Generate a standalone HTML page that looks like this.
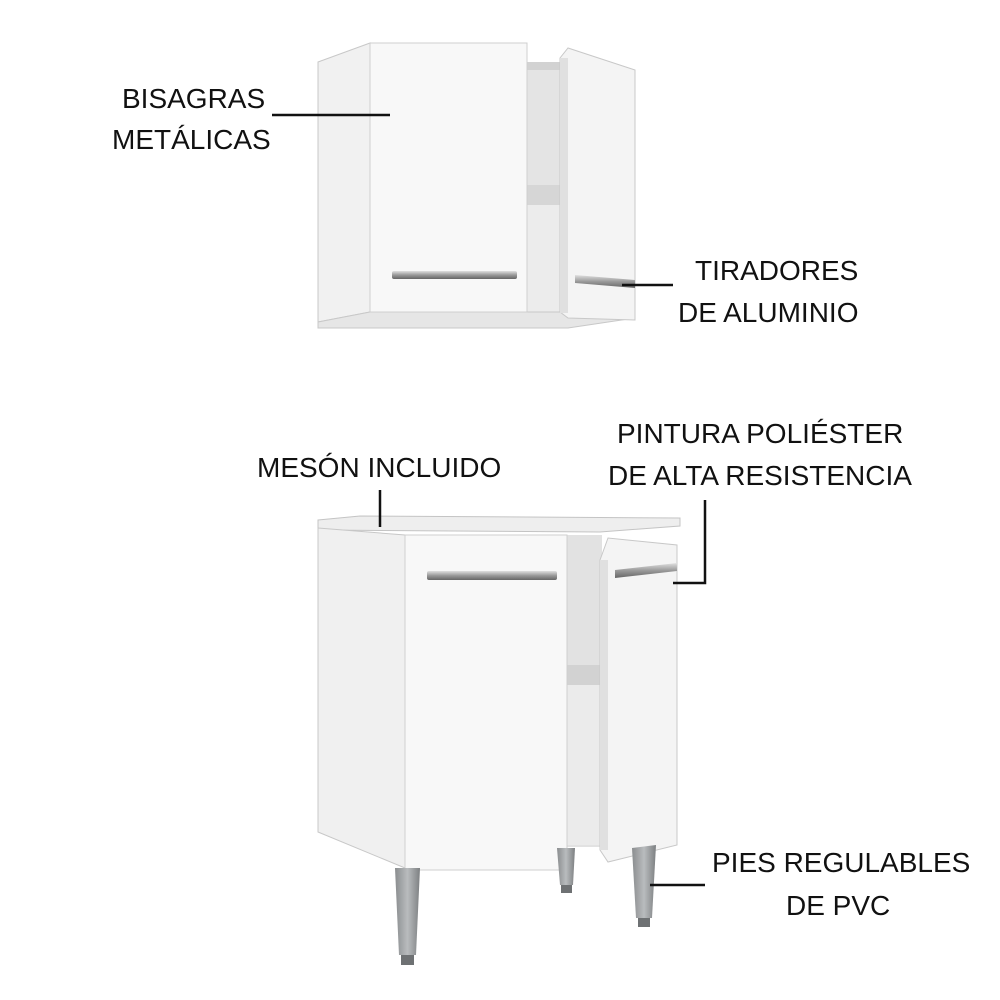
<!DOCTYPE html>
<html><head><meta charset="utf-8"><style>
html,body{margin:0;padding:0;background:#fff;}
svg{display:block}
text{font-family:"Liberation Sans",sans-serif;font-size:28px;fill:#111;letter-spacing:0px}
</style></head><body>
<svg width="1000" height="1000" viewBox="0 0 1000 1000" xmlns="http://www.w3.org/2000/svg">
<defs>
<linearGradient id="leg" x1="0" x2="1"><stop offset="0" stop-color="#8a8d8f"/><stop offset="0.5" stop-color="#b9bcbe"/><stop offset="1" stop-color="#7d8082"/></linearGradient>
<linearGradient id="hd" x1="0" y1="0" x2="0" y2="1"><stop offset="0" stop-color="#e0e0e0"/><stop offset="0.5" stop-color="#9a9a9a"/><stop offset="1" stop-color="#666"/></linearGradient>
</defs>
<!-- UPPER CABINET -->
<polygon points="318,62 370,43 370,312 318,322" fill="#f1f1f1" stroke="#c8c8c8"/>
<rect x="527" y="62" width="38" height="255" fill="#e4e4e4"/>
<rect x="527" y="62" width="38" height="8" fill="#d2d2d2"/>
<rect x="527" y="185" width="36" height="20" fill="#d6d6d6"/>
<rect x="527" y="205" width="36" height="110" fill="#ececec"/>
<polygon points="318,322 370,312 565,312 635,318 568,328 318,328" fill="#e6e6e6" stroke="#c8c8c8"/>
<rect x="370" y="43" width="157" height="269" fill="#f8f8f8" stroke="#cfcfcf"/>
<polygon points="560,58 568,48 635,70 635,320 568,318 560,312" fill="#f4f4f4" stroke="#c8c8c8"/>
<rect x="560" y="58" width="8" height="255" fill="#e0e0e0"/>
<rect x="392" y="271" width="125" height="8" rx="2" fill="url(#hd)"/>
<polygon points="575,275 635,280 635,288 575,283" fill="url(#hd)"/>
<!-- LOWER CABINET -->
<polygon points="318,520 360,516 680,518 680,526 600,532 318,530" fill="#eeeeee" stroke="#c4c4c4"/>
<polygon points="318,528 405,535 405,868 318,832" fill="#f0f0f0" stroke="#c8c8c8"/>
<rect x="565" y="535" width="37" height="312" fill="#e2e2e2"/>
<rect x="565" y="665" width="36" height="20" fill="#d2d2d2"/>
<rect x="565" y="685" width="36" height="160" fill="#ebebeb"/>
<rect x="405" y="535" width="162" height="335" fill="#f8f8f8" stroke="#cfcfcf"/>
<polygon points="600,560 608,538 677,545 677,845 608,862 600,850" fill="#f4f4f4" stroke="#c8c8c8"/>
<rect x="600" y="560" width="8" height="290" fill="#e0e0e0"/>
<rect x="427" y="571" width="130" height="9" rx="2" fill="url(#hd)"/>
<polygon points="615,570 677,563 677,571 615,578" fill="url(#hd)"/>
<!-- legs -->
<polygon points="395,868 420,868 416,955 399,955" fill="url(#leg)"/>
<rect x="401" y="955" width="13" height="10" fill="#6e7173"/>
<polygon points="557,848 575,848 573,885 560,885" fill="url(#leg)"/>
<rect x="561" y="885" width="11" height="8" fill="#6e7173"/>
<polygon points="632,848 656,845 652,918 636,918" fill="url(#leg)"/>
<rect x="638" y="918" width="12" height="9" fill="#6e7173"/>
<!-- labels & leaders -->
<g stroke="#111" stroke-width="2.5" fill="none">
<line x1="272" y1="115" x2="390" y2="115"/>
<line x1="622" y1="285" x2="673" y2="285"/>
<line x1="380" y1="490" x2="380" y2="527"/>
<polyline points="705,500 705,583 673,583"/>
<line x1="650" y1="885" x2="705" y2="885"/>
</g>
<text x="122" y="108">BISAGRAS</text>
<text x="112" y="149">METÁLICAS</text>
<text x="695" y="280">TIRADORES</text>
<text x="678" y="322">DE ALUMINIO</text>
<text x="257" y="477">MESÓN INCLUIDO</text>
<text x="617" y="443">PINTURA POLIÉSTER</text>
<text x="608" y="485">DE ALTA RESISTENCIA</text>
<text x="712" y="872">PIES REGULABLES</text>
<text x="786" y="915">DE PVC</text>
</svg>
</body></html>
